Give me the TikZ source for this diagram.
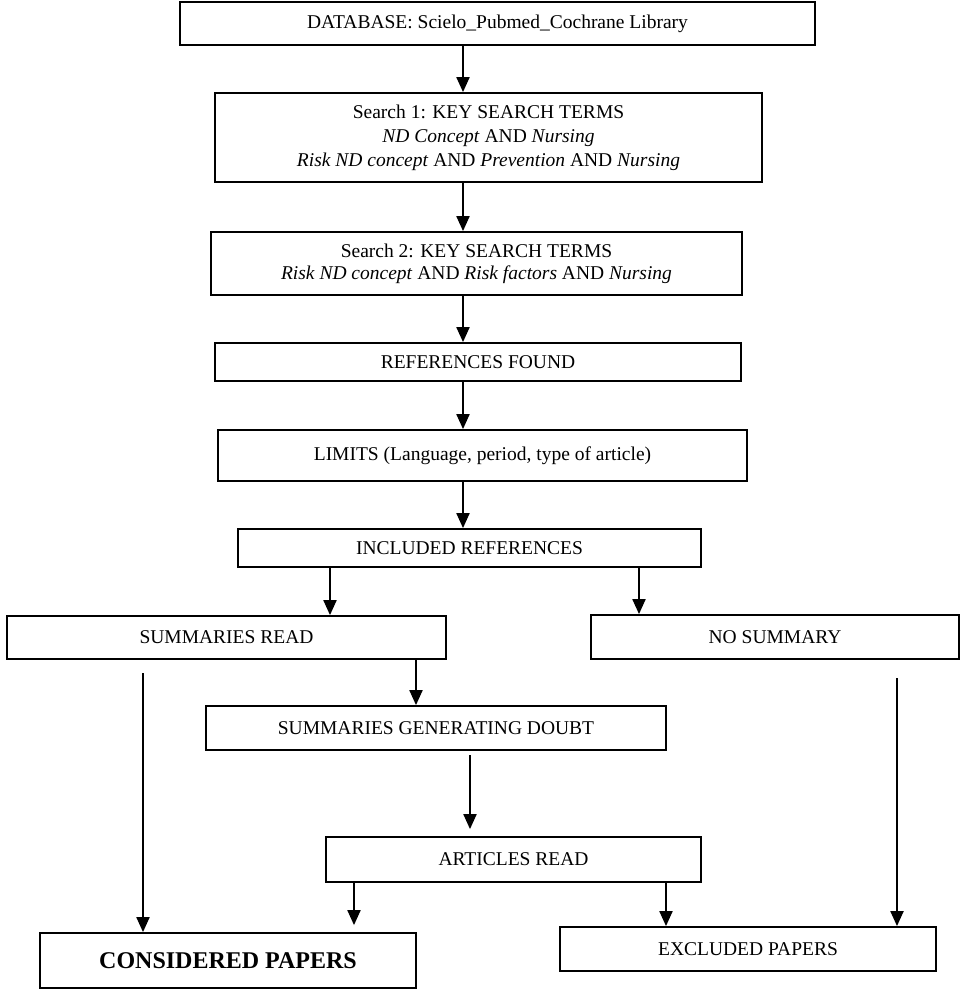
\documentclass[tikz,border=0pt]{standalone}
\usepackage{fontspec}
\setmainfont{Liberation Serif}
\usetikzlibrary{arrows.meta}
\begin{document}
\begin{tikzpicture}[x=1pt,y=-1pt,
  box/.style={draw, line width=1.8pt, inner sep=0pt, align=center,
    font=\fontsize{19.5}{24}\selectfont},
  arr/.style={line width=2pt, -{Triangle[width=13pt,length=15pt]}}]
\useasboundingbox (0,0) rectangle (962,996);
\node[box, minimum width=635pt, minimum height=43pt] (db) at (497.5,23.5)
  {DATABASE: Scielo\_Pubmed\_Cochrane Library};
\node[box, minimum width=547pt, minimum height=89pt] (s1) at (488.5,137.5)
  {Search 1: KEY SEARCH TERMS\\ \textit{ND Concept} AND \textit{Nursing}\\
   \textit{Risk ND concept} AND \textit{Prevention} AND \textit{Nursing}};
\node[box, minimum width=531pt, minimum height=63pt,
  font=\fontsize{19.5}{22}\selectfont] (s2) at (476.5,263.5)
  {Search 2: KEY SEARCH TERMS\\
   \textit{Risk ND concept} AND \textit{Risk factors} AND \textit{Nursing}};
\node[box, minimum width=526pt, minimum height=38pt] (rf) at (478,362)
  {REFERENCES FOUND};
\node[box, minimum width=529pt, minimum height=51pt] (lim) at (482.5,455.5)
  {LIMITS (Language, period, type of article)};
\node[box, minimum width=463pt, minimum height=38pt] (inc) at (469.5,548)
  {INCLUDED REFERENCES};
\node[box, minimum width=439pt, minimum height=43pt] (sr) at (226.5,637.5)
  {SUMMARIES READ};
\node[box, minimum width=368pt, minimum height=44pt] (ns) at (775,637)
  {NO SUMMARY};
\node[box, minimum width=460pt, minimum height=44pt] (sgd) at (436,728)
  {SUMMARIES GENERATING DOUBT};
\node[box, minimum width=375pt, minimum height=45pt] (ar) at (513.5,859.5)
  {ARTICLES READ};
\node[box, minimum width=376pt, minimum height=55pt,
  font=\fontsize{24}{28}\selectfont\bfseries] (cp) at (228,960.5)
  {CONSIDERED PAPERS};
\node[box, minimum width=376pt, minimum height=44pt] (ex) at (748,949)
  {EXCLUDED PAPERS};
% x positions of connectors
\coordinate (xa) at (463,0);
\coordinate (xl) at (330,0);
\coordinate (xr) at (639,0);
\coordinate (xs) at (416,0);
\coordinate (xc) at (354,0);
\coordinate (xe) at (666,0);
\coordinate (ls) at (143,673);
\coordinate (rs) at (897,678);
\coordinate (ms) at (470,755);
\draw[arr] (db.south -| xa) -- (s1.north -| xa);
\draw[arr] (s1.south -| xa) -- (s2.north -| xa);
\draw[arr] (s2.south -| xa) -- (rf.north -| xa);
\draw[arr] (rf.south -| xa) -- (lim.north -| xa);
\draw[arr] (lim.south -| xa) -- (inc.north -| xa);
\draw[arr] (inc.south -| xl) -- (sr.north -| xl);
\draw[arr] (inc.south -| xr) -- (ns.north -| xr);
\draw[arr] (sr.south -| xs) -- (sgd.north -| xs);
\draw[arr] (ls) -- (cp.north -| ls);
\draw[arr] (rs) -- (ex.north -| rs);
\draw[arr, shorten >=7pt] (ms) -- (ar.north -| ms);
\draw[arr, shorten >=7pt] (ar.south -| xc) -- (cp.north -| xc);
\draw[arr] (ar.south -| xe) -- (ex.north -| xe);
\end{tikzpicture}
\end{document}
